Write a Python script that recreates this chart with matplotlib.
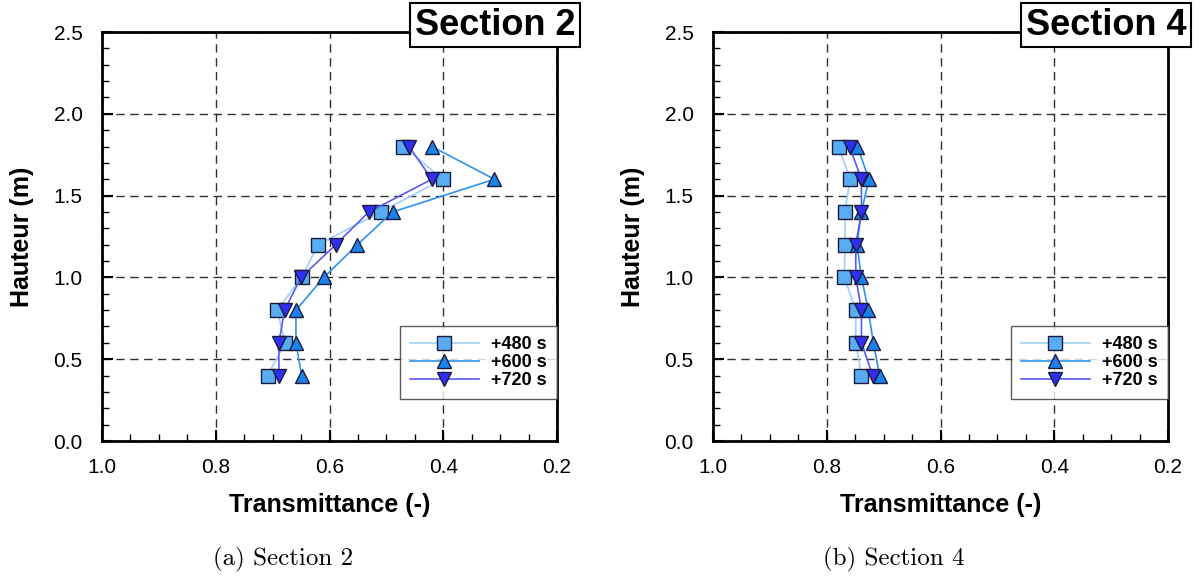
import matplotlib.pyplot as plt
from matplotlib.ticker import MultipleLocator

# heights of the measurement points (m)
hauteur = [0.4, 0.6, 0.8, 1.0, 1.2, 1.4, 1.6, 1.8]

# Section 2 transmittance
s2_480 = [0.709, 0.678, 0.692, 0.649, 0.620, 0.510, 0.401, 0.470]
s2_600 = [0.649, 0.659, 0.659, 0.610, 0.551, 0.489, 0.310, 0.420]
s2_720 = [0.689, 0.689, 0.679, 0.650, 0.589, 0.531, 0.420, 0.460]

# Section 4 transmittance
s4_480 = [0.739, 0.749, 0.749, 0.769, 0.768, 0.768, 0.759, 0.779]
s4_600 = [0.707, 0.718, 0.727, 0.739, 0.747, 0.739, 0.726, 0.746]
s4_720 = [0.719, 0.739, 0.739, 0.749, 0.749, 0.739, 0.739, 0.760]

labels = ['+480 s', '+600 s', '+720 s']

plt.rcParams['font.family'] = ['Liberation Sans', 'DejaVu Sans']

fig = plt.figure(figsize=(12.03, 5.77), dpi=100)
ax1 = fig.add_axes([0.0848, 0.2357, 0.3782, 0.7088])
ax2 = fig.add_axes([0.5927, 0.2357, 0.3782, 0.7088])

styles = [
    dict(marker='s', color='#9fd0f7', mfc='#58acf2', ms=9.5),
    dict(marker='^', color='#2c93ef', mfc='#1a82ee', ms=10.5),
    dict(marker='v', color='#5a5af2', mfc='#2f2ff5', ms=10.5),
]

panels = [
    (ax1, [s2_480, s2_600, s2_720], 'Section 2', '(a) Section 2'),
    (ax2, [s4_480, s4_600, s4_720], 'Section 4', '(b) Section 4'),
]

for ax, series, title, caption in panels:
    for vals, st, lab in zip(series, styles, labels):
        ax.plot(vals, hauteur, marker=st['marker'], color=st['color'], lw=1.2,
                mfc=st['mfc'], mec='#1c1c3a', mew=1.0, ms=st['ms'], label=lab,
                zorder=3)

    ax.set_xlim(1.0, 0.2)
    ax.set_ylim(0.0, 2.5)
    ax.xaxis.set_major_locator(MultipleLocator(0.2))
    ax.xaxis.set_minor_locator(MultipleLocator(0.05))
    ax.yaxis.set_major_locator(MultipleLocator(0.5))
    ax.yaxis.set_minor_locator(MultipleLocator(0.1))
    ax.tick_params(which='both', direction='in', top=False, right=False,
                   labelsize=15)
    ax.tick_params(axis='x', which='major', pad=12)
    ax.tick_params(axis='y', which='major', pad=14)
    ax.tick_params(which='major', length=8, width=1.5)
    ax.tick_params(which='minor', length=5, width=1.0)
    ax.set_xticklabels([f'{v:.1f}' for v in ax.get_xticks()])
    ax.set_yticklabels([f'{v:.1f}' for v in ax.get_yticks()])
    for sp in ax.spines.values():
        sp.set_linewidth(2.0)

    ax.grid(True, which='major', color='#303030', ls=(0, (6, 4)), lw=1.0)
    ax.set_axisbelow(True)

    ax.set_xlabel('Transmittance (-)', fontsize=18, fontweight='bold', labelpad=12)
    ax.set_ylabel('Hauteur (m)', fontsize=18, fontweight='bold', labelpad=14)

    leg = ax.legend(loc='lower right', bbox_to_anchor=(1.0, 0.103),
                    prop={'weight': 'bold', 'size': 13},
                    frameon=True, fancybox=False, edgecolor='#333333',
                    handlelength=3.8, handletextpad=0.7, borderpad=0.55,
                    labelspacing=0.05, borderaxespad=0)
    leg.get_frame().set_linewidth(1.0)

    ax.text(0.864, 1.017, title, transform=ax.transAxes, ha='center', va='center',
            fontsize=26, fontweight='bold', zorder=10, clip_on=False,
            bbox=dict(boxstyle='square,pad=0.12', fc='white', ec='black', lw=1.5))

    ax.text(0.398, -0.29, caption, transform=ax.transAxes, ha='center', va='center',
            fontsize=18, family='cmr10')

fig.savefig('out.png', dpi=100, facecolor='white')
